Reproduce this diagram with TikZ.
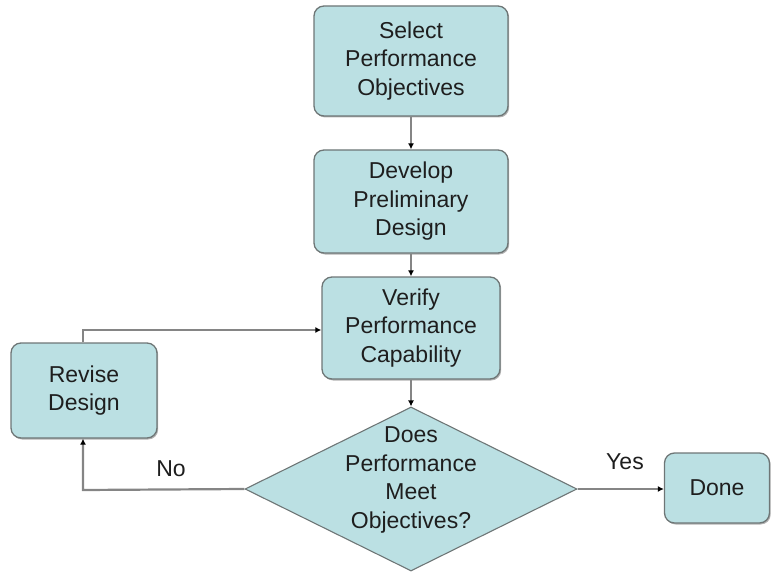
\documentclass[tikz,border=0pt]{standalone}
\usepackage{fontspec}
\setmainfont{Liberation Sans}
\usetikzlibrary{shapes.geometric,shadows,arrows.meta}
\definecolor{boxfill}{HTML}{BBE0E3}
\definecolor{boxline}{HTML}{6E7676}
\definecolor{wire}{HTML}{858585}
\definecolor{inktext}{HTML}{1E1E1E}
\tikzset{
	stepbox/.style={draw=boxline, line width=1.3pt, fill=boxfill, rounded corners=10pt,
		drop shadow={shadow xshift=1.2pt, shadow yshift=-1.5pt, fill=gray, opacity=0.6},
		text=inktext, align=center, inner sep=0pt,
		font=\fontsize{23}{28.5}\selectfont},
	choice/.style={diamond, draw=boxline, line width=1.1pt, fill=boxfill, inner sep=0pt},
	flow/.style={draw=wire, line width=2.2pt, -{Latex[length=6pt,width=6pt,black]}},
	tag/.style={text=inktext, align=center, font=\fontsize{23}{28.5}\selectfont}
}
\begin{document}
\begin{tikzpicture}[x=1pt, y=-1pt]
	%%%%% START %%%%%
	\useasboundingbox (0, 0) rectangle (771, 575);
	
	\node[stepbox, minimum width=194pt, minimum height=110pt] (sel) at (411, 61) {Select\\Performance\\Objectives};
	\node[stepbox, minimum width=194pt, minimum height=103pt] (dev) at (411, 201.5) {Develop\\Preliminary\\Design};
	\node[stepbox, minimum width=178pt, minimum height=102pt] (ver) at (411, 328) {Verify\\Performance\\Capability};
	\node[stepbox, minimum width=146pt, minimum height=95pt] (rev) at (84, 390.5) {Revise\\Design};
	\node[stepbox, minimum width=105pt, minimum height=70pt] (done) at (717, 488) {Done};
	
	\node[choice, minimum width=332pt, minimum height=164pt] (ask) at (411, 489) {};
	\node[tag] (asktext) at (411, 480) {Does\\Performance\\Meet\\Objectives?};
	
	\draw[flow] (sel) -- (dev);
	\draw[flow] (dev) -- (ver);
	\draw[flow] (ver) -- (ask);
	
	\coordinate (nocorner) at (83, 490);
	\coordinate (backcorner) at (83, 330);
	\draw[flow] (ask.west) -- (nocorner) -- (rev.south -| nocorner);
	\draw[flow] (rev.north -| backcorner) -- (backcorner) -- (ver.west |- backcorner);
	\draw[flow] (ask.east) -- (done.west |- ask.east);
	
	\node[tag] (no) at (171, 469) {No};
	\node[tag] (yes) at (625, 462) {Yes};
	%%%%% END %%%%%
\end{tikzpicture}
\end{document}
